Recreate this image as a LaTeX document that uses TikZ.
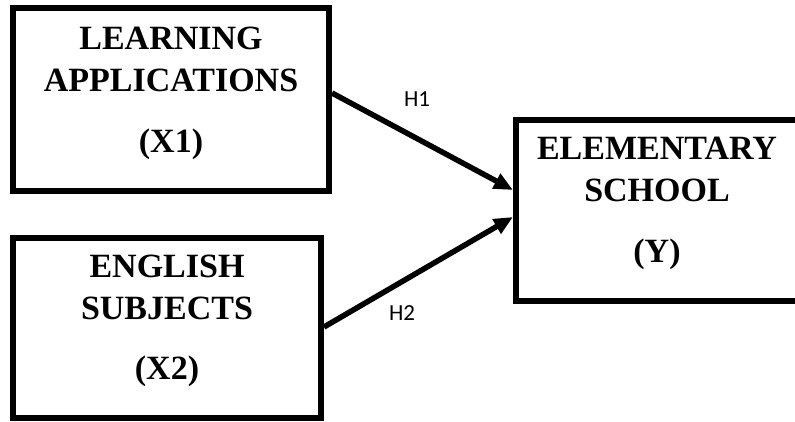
\documentclass[tikz,border=0pt]{standalone}
\usepackage{fontspec}
\setmainfont{Liberation Serif}
\newfontfamily\hfont{Carlito}
\usetikzlibrary{arrows.meta}
\tikzset{
  varbox/.style={draw=black, line width=6pt, minimum width=#1, inner sep=0pt},
  boxtext/.style={align=center, font=\fontsize{34}{42}\selectfont\bfseries, inner sep=0pt},
  link/.style={line width=5.5pt, -{Triangle[length=19pt,width=16pt]}},
  hlabel/.style={font=\hfont\fontsize{23}{26}\selectfont, inner sep=0pt}
}
\begin{document}
\begin{tikzpicture}[x=1pt,y=1pt]
\useasboundingbox (0,0) rectangle (795,421);
\node[varbox=316pt, minimum height=183pt] (b1) at (171,321) {};
\node[varbox=308pt, minimum height=180pt] (b2) at (167,93) {};
\node[varbox=282pt, minimum height=181pt] (b3) at (657,210.5) {};
\node[boxtext] (t1) at ([yshift=7pt]b1.center) {LEARNING\\APPLICATIONS\\[19pt](X1)};
\node[boxtext] (t2) at ([yshift=7pt]b2.center) {ENGLISH\\SUBJECTS\\[18pt](X2)};
\node[boxtext] (t3) at ([yshift=7.5pt]b3.center) {ELEMENTARY\\SCHOOL\\[19pt](Y)};
\draw[link] ([yshift=7pt]b1.east) -- ([yshift=20.5pt]b3.west);
\draw[link] ([yshift=1pt]b2.east) -- ([yshift=-6.5pt]b3.west);
\node[hlabel] (h1) at (417,322) {H1};
\node[hlabel] (h2) at (402,107.5) {H2};
\end{tikzpicture}
\end{document}
